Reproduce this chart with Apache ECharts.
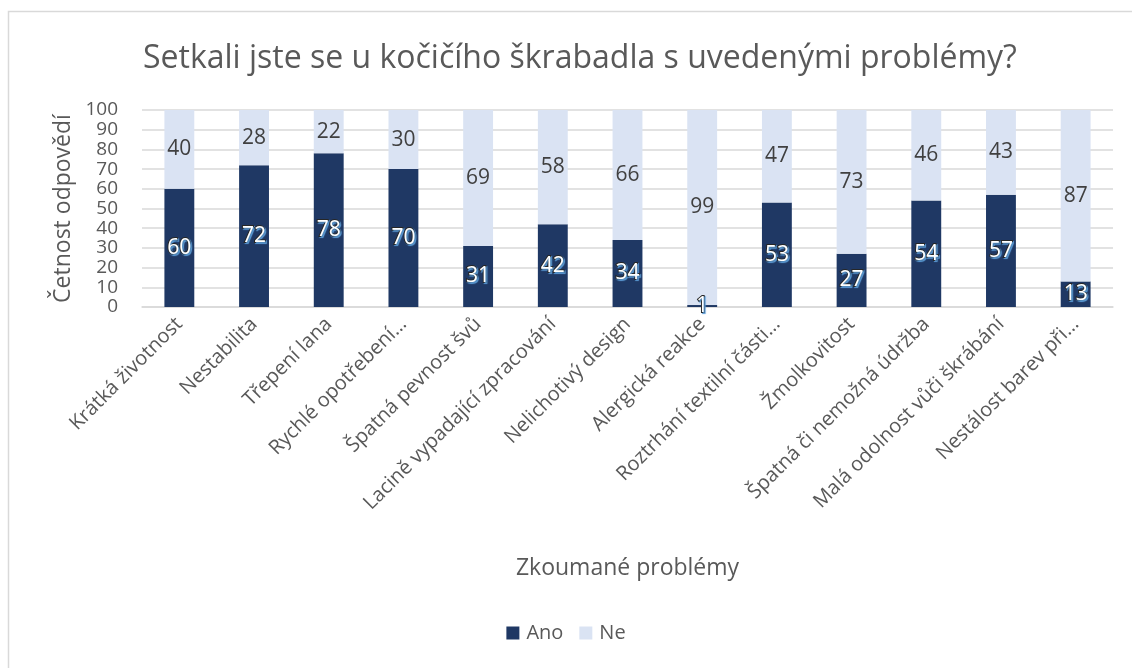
<!DOCTYPE html>
<html>
<head>
<meta charset="utf-8">
<script src="https://cdn.jsdelivr.net/npm/echarts@6/dist/echarts.min.js"></script>
<style>
html, body { margin: 0; padding: 0; background: #fff; }
#chart { width: 1132px; height: 668px; }
</style>
</head>
<body>
<div id="chart"></div>
<script>
const categories = [
    'Krátká životnost', 'Nestabilita', 'Třepení lana', 'Rychlé opotřebení…',
    'Špatná pevnost švů', 'Lacině vypadající zpracování', 'Nelichotivý design',
    'Alergická reakce', 'Roztrhání textilní části…', 'Žmolkovitost',
    'Špatná či nemožná údržba', 'Malá odolnost vůči škrábání', 'Nestálost barev při…'
];
const ano = [60, 72, 78, 70, 31, 42, 34, 1, 53, 27, 54, 57, 13];
const ne = [40, 28, 22, 30, 69, 58, 66, 99, 47, 73, 46, 43, 87];
const yTicks = [0, 100, 10]; // min, max, step

const font = 'Open Sans';
let chart = echarts.init(document.getElementById('chart'));

const option = {
    textStyle: { fontFamily: font },
    title: {
        text: 'Setkali jste se u kočičího škrabadla s uvedenými problémy?',
        left: 138,
        top: 38,
        textStyle: { fontFamily: font, fontSize: 32, fontWeight: 'normal', color: '#595959' }
    },
    // outer frame of the chart
    graphic: [{
        type: 'rect',
        z: -10,
        shape: { x: 8.5, y: 11.5, width: 1200, height: 700 },
        style: { fill: 'none', stroke: '#d9d9d9', lineWidth: 1.5 }
    }],
    legend: {
        data: ['Ano', 'Ne'],
        bottom: 20,
        left: 'center',
        itemWidth: 13,
        itemHeight: 13,
        itemGap: 16,
        icon: 'rect',
        textStyle: { fontFamily: font, fontSize: 20, color: '#595959', padding: [0, 0, 0, 2] }
    },
    grid: {
        left: 142,
        right: 19,
        top: 110,
        bottom: 361,
        outerBoundsMode: 'none'
    },
    xAxis: {
        type: 'category',
        data: categories,
        name: 'Zkoumané problémy',
        nameLocation: 'middle',
        nameGap: 250,
        nameTextStyle: { fontFamily: font, fontSize: 23, color: '#595959' },
        axisTick: { show: false },
        axisLine: { lineStyle: { color: '#d9d9d9', width: 1.5 } },
        axisLabel: {
            interval: 0,
            rotate: 45,
            margin: 14,
            fontFamily: font,
            fontSize: 20,
            color: '#595959'
        }
    },
    yAxis: {
        type: 'value',
        min: yTicks[0],
        max: yTicks[1],
        interval: yTicks[2],
        name: 'Četnost odpovědí',
        nameLocation: 'middle',
        nameGap: 66,
        nameTextStyle: { fontFamily: font, fontSize: 23, color: '#595959' },
        axisLine: { show: false },
        axisTick: { show: false },
        splitLine: { lineStyle: { color: '#d9d9d9', width: 1.5 } },
        axisLabel: {
            margin: 24,
            fontFamily: font,
            fontSize: 19,
            color: '#595959'
        }
    },
    series: [
        {
            name: 'Ano',
            type: 'bar',
            stack: 'total',
            barWidth: '40%',
            itemStyle: { color: '#1f3864' },
            label: {
                show: true,
                position: 'inside',
                fontFamily: font,
                fontSize: 21,
                color: '#ffffff',
                textBorderColor: '#262626',
                textBorderWidth: 2,
                textShadowColor: '#5b9bd5',
                textShadowOffsetX: 1,
                textShadowOffsetY: 1,
                textShadowBlur: 1
            },
            data: ano
        },
        {
            name: 'Ne',
            type: 'bar',
            stack: 'total',
            itemStyle: { color: '#dae3f3' },
            label: {
                show: true,
                position: 'inside',
                fontFamily: font,
                fontSize: 21,
                color: '#404040'
            },
            data: ne
        }
    ]
};

chart.setOption(option);
</script>
</body>
</html>
